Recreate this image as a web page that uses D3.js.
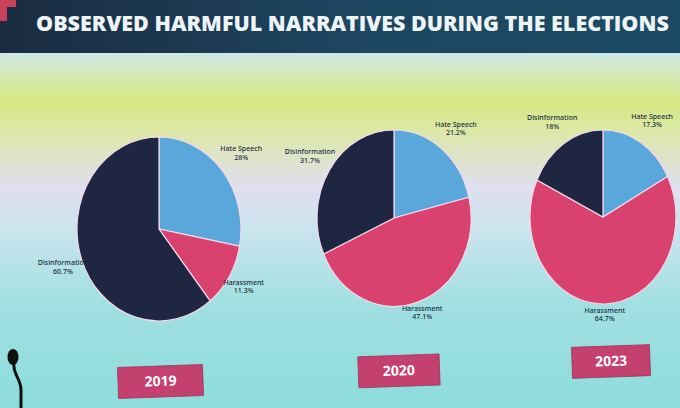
<!DOCTYPE html>
<html>
<head>
<meta charset="utf-8">
<script src="https://cdn.jsdelivr.net/npm/d3@7"></script>
<style>
  body { margin: 0; padding: 0; overflow: hidden; }
  svg { display: block; }
</style>
</head>
<body>
<div id="plot"></div>
<script>
var categories = ["Hate Speech", "Harassment", "Disinformation"];
var years = ["2019", "2020", "2023"];
var values2019 = [28, 11.3, 60.7];
var values2020 = [21.2, 47.1, 31.7];
var values2023 = [17.3, 64.7, 18];
var labels2019 = ["28%", "11.3%", "60.7%"];
var labels2020 = ["21.2%", "47.1%", "31.7%"];
var labels2023 = ["17.3%", "64.7%", "18%"];
var colors = ["#5aa7db", "#d9426f", "#1e2641"];

var W = 680, H = 408;

var svg = d3.select("#plot")
    .append("svg")
    .attr("width", W)
    .attr("height", H);

var defs = svg.append("defs");

// slide background
var bg = defs.append("linearGradient")
    .attr("id", "bg")
    .attr("x1", 0).attr("y1", 0).attr("x2", 0).attr("y2", 1);
[[0, "#cde7ea"], [0.06, "#d5e9b8"], [0.14, "#d6e883"], [0.22, "#dde8a6"],
 [0.38, "#e0dff0"], [0.5, "#cbe4ee"], [0.7, "#a2e0e2"], [1, "#8ddcdc"]]
  .forEach(function(s){
    bg.append("stop").attr("offset", s[0]).attr("stop-color", s[1]);
  });

var bar = defs.append("linearGradient")
    .attr("id", "bar")
    .attr("x1", 0).attr("y1", 0).attr("x2", 1).attr("y2", 0);
[[0, "#1a2b40"], [0.5, "#1d4560"], [1, "#1c4a64"]].forEach(function(s){
    bar.append("stop").attr("offset", s[0]).attr("stop-color", s[1]);
});

svg.append("rect")
    .attr("x", 0).attr("y", 52)
    .attr("width", W).attr("height", H - 52)
    .style("fill", "url(#bg)");

svg.append("rect")
    .attr("x", 0).attr("y", 0)
    .attr("width", W).attr("height", 53)
    .style("fill", "url(#bar)");

svg.append("path")
    .attr("d", "M0,0 L16,0 L16,7 L7,7 L7,21 L0,21 Z")
    .style("fill", "#c8415c");

var title = svg.append("text")
    .attr("x", 36)
    .attr("y", 31)
    .style("font-family", "'Open Sans', 'DejaVu Sans', sans-serif")
    .style("font-weight", 800)
    .style("font-size", "22px")
    .style("fill", "#eef3f5")
    .text("OBSERVED HARMFUL NARRATIVES DURING THE ELECTIONS");

// shrink the title until it fits inside the frame
var fs = 22;
while (title.node().getComputedTextLength() > W - 36 - 6 && fs > 12) {
    fs -= 0.5;
    title.style("font-size", fs + "px");
}

// pies, photographed at a slight angle so drawn as ellipses
var charts = [
    { year: years[0], values: values2019, labels: labels2019, cx: 159, cy: 229, rx: 82, ry: 92 },
    { year: years[1], values: values2020, labels: labels2020, cx: 394, cy: 218, rx: 77, ry: 88 },
    { year: years[2], values: values2023, labels: labels2023, cx: 603, cy: 217, rx: 73, ry: 87 }
];

// year tags shrink and rise to the right (perspective of the photo)
var tagX = d3.scaleLinear().domain([159, 603]).range([160.5, 611]);
var tagY = d3.scaleLinear().domain([159, 603]).range([381, 361]);
var tagW = d3.scaleLinear().domain([159, 603]).range([85, 78]);

var pie = d3.pie().sort(null).value(function(d){ return d; });
var arc = d3.arc().innerRadius(0).outerRadius(1);

charts.forEach(function(c){
    var arcs = pie(c.values);

    var g = svg.append("g")
        .attr("transform", "translate(" + c.cx + "," + c.cy + ") scale(" + c.rx + "," + c.ry + ")");

    g.selectAll(".slice")
        .data(arcs)
        .enter().append("path")
        .attr("class", "slice")
        .attr("d", arc)
        .attr("vector-effect", "non-scaling-stroke")
        .style("fill", function(d, i){ return colors[i]; })
        .style("stroke", "#f2d9ea")
        .style("stroke-width", 1.2);

    var lg = svg.append("g")
        .attr("transform", "translate(" + c.cx + "," + c.cy + ")");

    var lab = lg.selectAll(".lab")
        .data(arcs)
        .enter().append("text")
        .attr("class", "lab")
        .attr("transform", function(d){
            var a = (d.startAngle + d.endAngle) / 2;
            var k = 1.3 - 0.18 * Math.max(0, -Math.cos(a));
            var x = Math.sin(a) * c.rx * k;
            var y = -Math.cos(a) * c.ry * k;
            return "translate(" + x + "," + y + ")";
        })
        .attr("text-anchor", "middle")
        .style("font-family", "'Noto Sans', 'DejaVu Sans', sans-serif")
        .style("font-size", "7px")
        .style("font-weight", 500)
        .style("fill", "#1b2c3c");

    lab.append("tspan")
        .attr("x", 0)
        .attr("dy", "-0.2em")
        .text(function(d, i){ return categories[i]; });
    lab.append("tspan")
        .attr("x", 0)
        .attr("dy", "1.2em")
        .text(function(d, i){ return c.labels[i]; });

    // year tag under each pie
    var w = tagW(c.cx);
    var tag = svg.append("g")
        .attr("transform", "translate(" + tagX(c.cx) + "," + tagY(c.cx) + ") rotate(-2)");
    tag.append("rect")
        .attr("x", -w / 2).attr("y", -15)
        .attr("width", w).attr("height", 31)
        .style("fill", "#c4406f")
        .style("stroke", "#9e3358")
        .style("stroke-width", 0.8);
    tag.append("text")
        .attr("x", 0).attr("y", 5)
        .attr("text-anchor", "middle")
        .style("font-family", "'Open Sans', 'DejaVu Sans', sans-serif")
        .style("font-weight", 700)
        .style("font-size", "14px")
        .style("fill", "#ffffff")
        .text(c.year);
});

// microphone silhouette in the photo's lower left
svg.append("path")
    .attr("d", "M14,362 C12,374 21,378 21,390 L21,408")
    .style("fill", "none")
    .style("stroke", "#111")
    .style("stroke-width", 3);
svg.append("ellipse")
    .attr("cx", 13).attr("cy", 357)
    .attr("rx", 5.5).attr("ry", 8)
    .style("fill", "#111");
</script>
</body>
</html>
